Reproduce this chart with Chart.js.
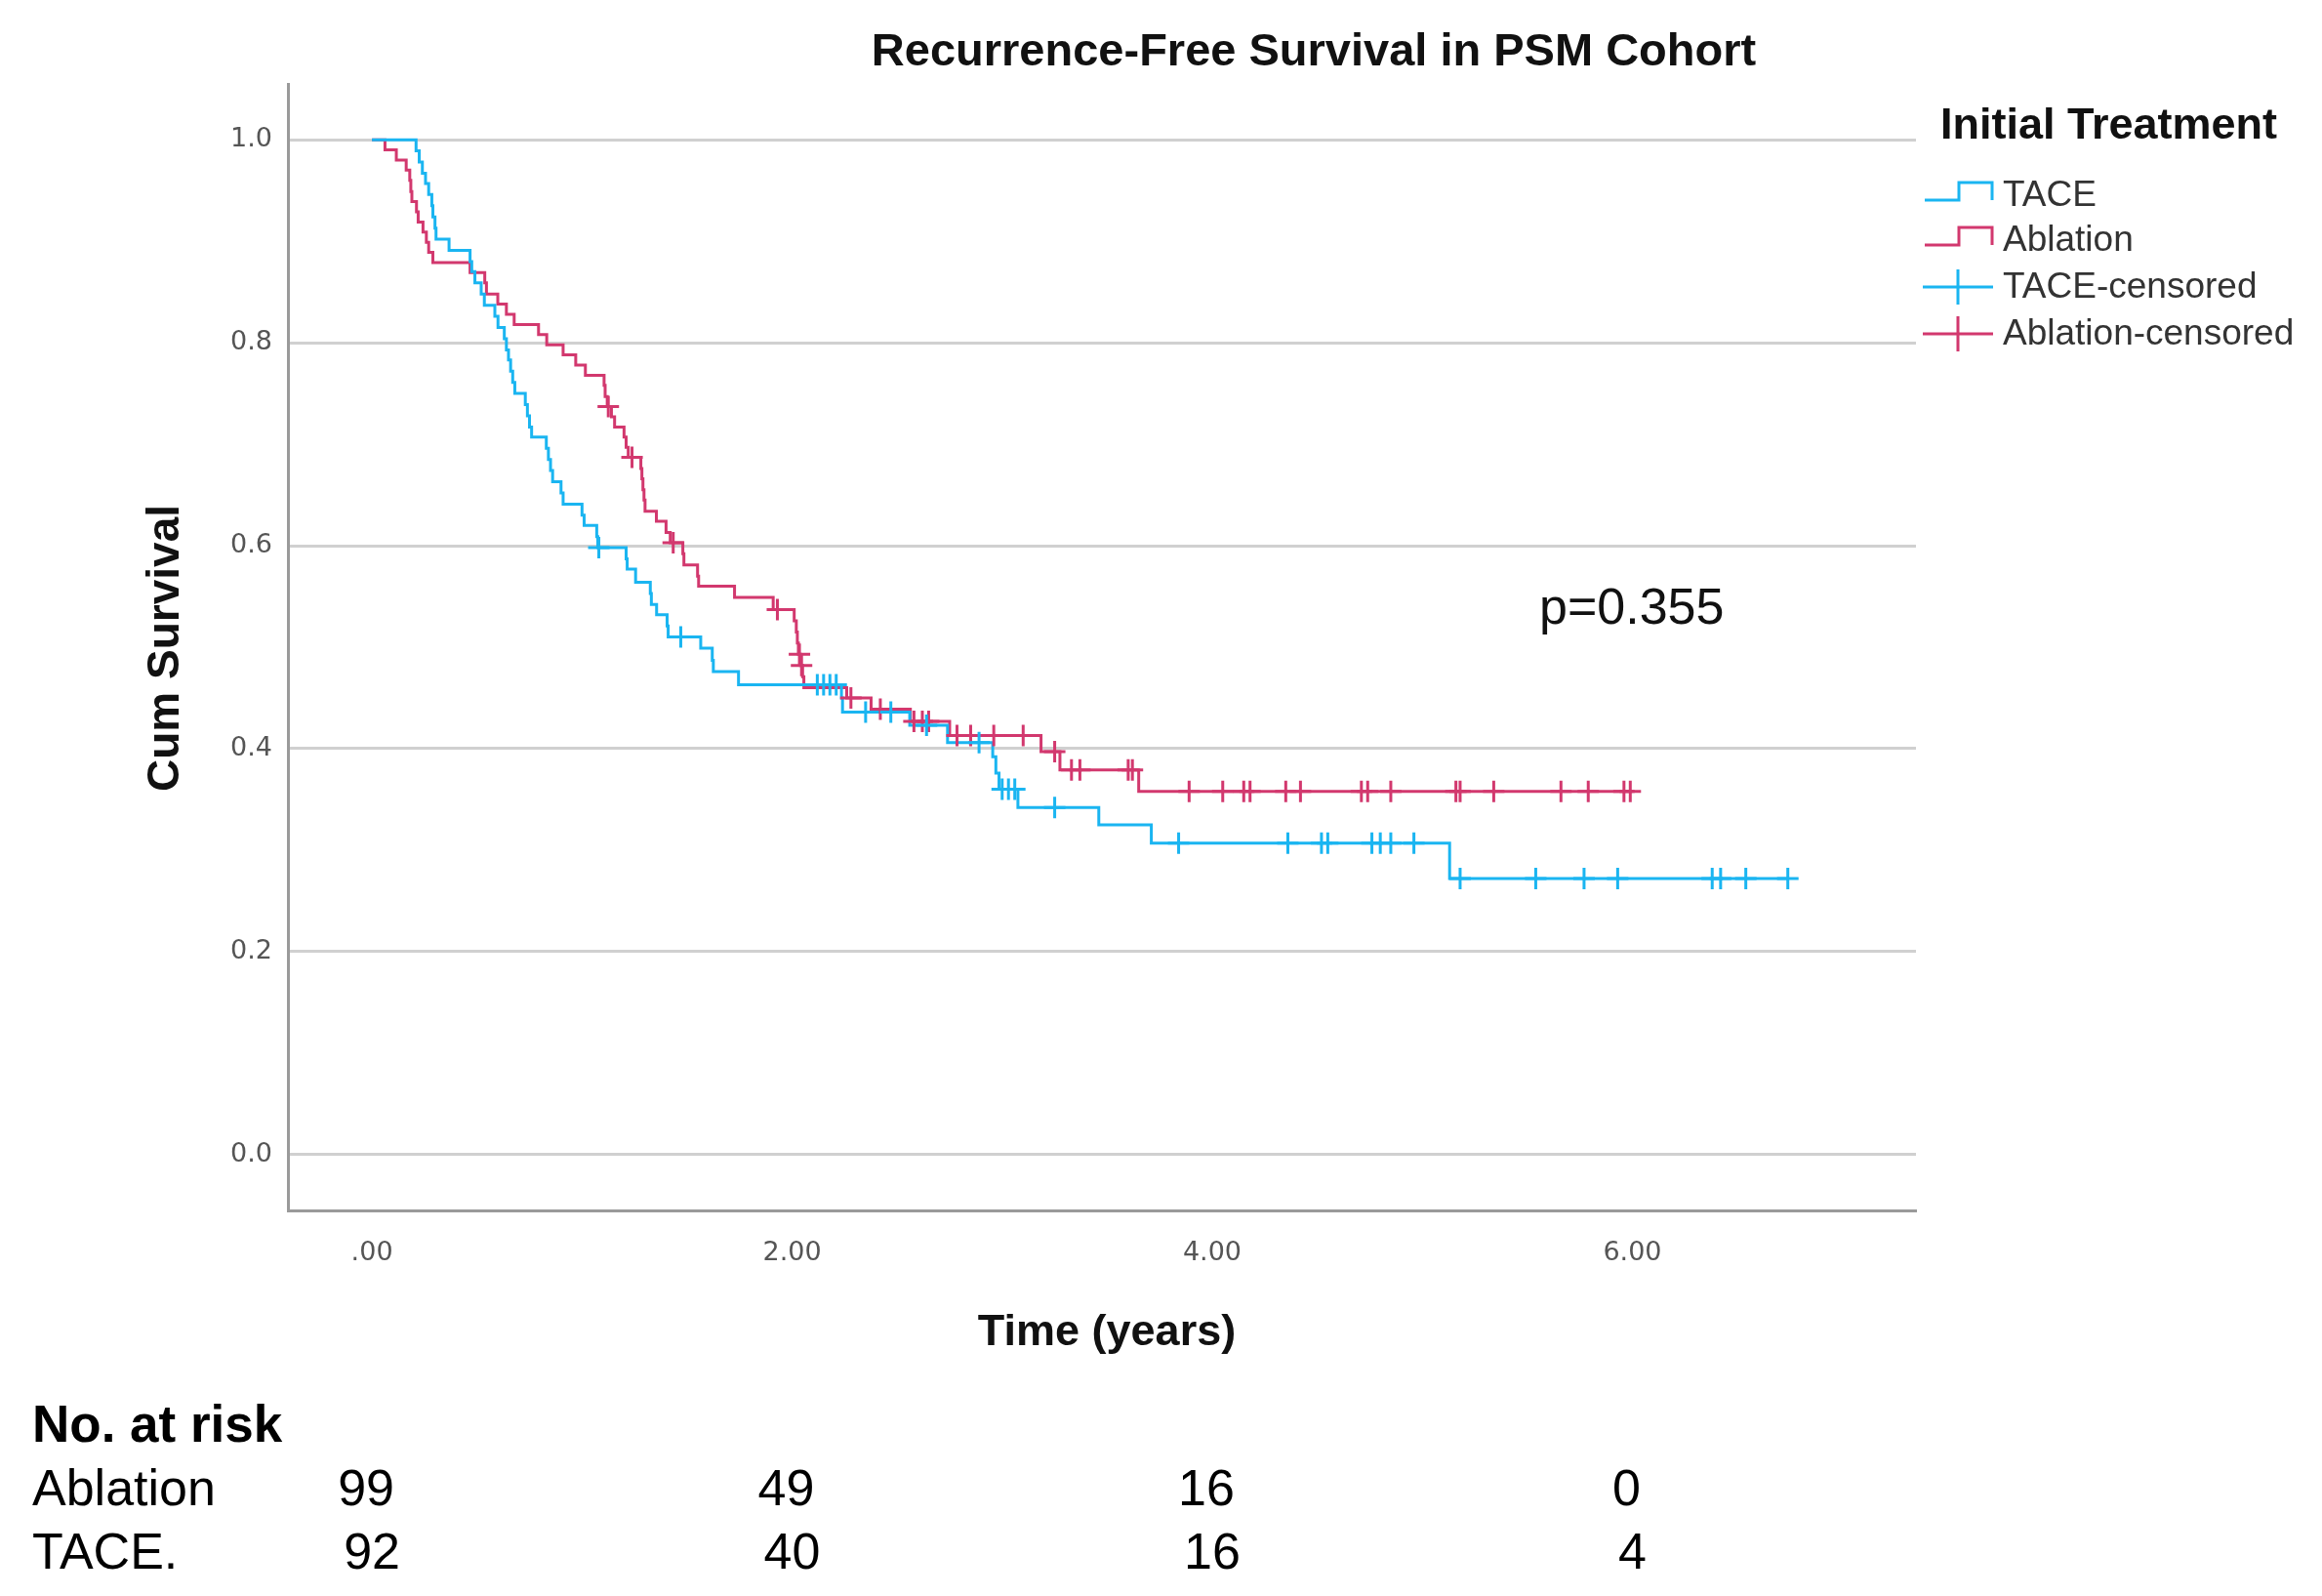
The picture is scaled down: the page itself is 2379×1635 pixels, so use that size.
<!DOCTYPE html>
<html>
<head>
<meta charset="utf-8">
<title>Recurrence-Free Survival in PSM Cohort</title>
<script src="https://cdn.jsdelivr.net/npm/chart.js@4.4.1/dist/chart.umd.min.js"></script>
<style>
  html, body { margin: 0; padding: 0; background: #fff; }
  canvas { display: block; }
</style>
</head>
<body>
<canvas id="kmChart" width="2379" height="1635"></canvas>
<script>
// event times (years) and survival after each drop
const taceTime = [0.21, 0.225, 0.24, 0.255, 0.27, 0.285, 0.29, 0.30, 0.305, 0.367, 0.467, 0.475, 0.49, 0.52, 0.535,
  0.585, 0.60, 0.63, 0.64, 0.65, 0.66, 0.67, 0.68, 0.73, 0.74, 0.75, 0.76, 0.83, 0.84, 0.85, 0.86, 0.90, 0.91,
  1.00, 1.01, 1.07, 1.075, 1.21, 1.215, 1.255, 1.325, 1.33, 1.355, 1.405, 1.41, 1.565, 1.62, 1.625, 1.745,
  2.235, 2.24, 2.56, 2.74, 2.955, 2.97, 2.985, 3.075, 3.46, 3.71, 5.13];
const taceSurv = [0.989, 0.978, 0.967, 0.957, 0.946, 0.935, 0.924, 0.913, 0.902, 0.891, 0.880, 0.870, 0.859, 0.848, 0.837,
  0.826, 0.815, 0.804, 0.793, 0.783, 0.772, 0.761, 0.750, 0.739, 0.728, 0.717, 0.707, 0.696, 0.685, 0.674, 0.663, 0.652, 0.641,
  0.630, 0.620, 0.609, 0.598, 0.587, 0.577, 0.564, 0.553, 0.542, 0.532, 0.521, 0.510, 0.499, 0.487, 0.476, 0.463,
  0.450, 0.436, 0.423, 0.406, 0.392, 0.376, 0.360, 0.342, 0.325, 0.307, 0.272];
const taceEnd = 6.74;
const taceCensored = [1.08, 1.47, 2.12, 2.15, 2.18, 2.21, 2.35, 2.47, 2.64, 2.89, 3.0, 3.03, 3.06, 3.25, 3.84,
  4.36, 4.52, 4.55, 4.76, 4.80, 4.85, 4.96, 5.18, 5.54, 5.77, 5.93, 6.38, 6.42, 6.54, 6.74];

const ablTime = [0.062, 0.116, 0.163, 0.18, 0.185, 0.19, 0.212, 0.22, 0.243, 0.259, 0.27, 0.29, 0.467, 0.537, 0.545,
  0.599, 0.64, 0.677, 0.793, 0.832, 0.91, 0.97, 1.016, 1.105, 1.11, 1.12, 1.14, 1.155, 1.20, 1.21, 1.22,
  1.28, 1.285, 1.29, 1.295, 1.30, 1.354, 1.40, 1.42, 1.48, 1.485, 1.55, 1.555, 1.726, 1.91,
  2.01, 2.02, 2.025, 2.03, 2.04, 2.05, 2.056, 2.26, 2.376, 2.563, 2.75, 3.185, 3.275, 3.65];
const ablSurv = [0.990, 0.980, 0.970, 0.960, 0.949, 0.939, 0.929, 0.919, 0.909, 0.899, 0.889, 0.879, 0.869, 0.859, 0.848,
  0.838, 0.828, 0.818, 0.808, 0.798, 0.788, 0.778, 0.768, 0.758, 0.747, 0.737, 0.727, 0.717, 0.707, 0.697, 0.687,
  0.676, 0.666, 0.655, 0.645, 0.634, 0.624, 0.613, 0.603, 0.592, 0.581, 0.570, 0.560, 0.549, 0.537,
  0.526, 0.515, 0.504, 0.493, 0.482, 0.471, 0.460, 0.450, 0.439, 0.427, 0.413, 0.397, 0.379, 0.358];
const ablEnd = 6.0;
const ablCensored = [1.125, 1.238, 1.434, 1.93, 2.035, 2.045, 2.28, 2.42, 2.58, 2.62, 2.65, 2.785, 2.85, 2.96, 3.10,
  3.25, 3.33, 3.37, 3.60, 3.62, 3.89, 4.05, 4.15, 4.18, 4.35, 4.42, 4.71, 4.74, 4.85, 5.16, 5.18, 5.34,
  5.66, 5.79, 5.96, 5.99];

// number at risk table
const riskTimes = [0, 2, 4, 6];
const riskAblation = [99, 49, 16, 0];
const riskTace = [92, 40, 16, 4];

const blue = '#1ab5f1';
const red = '#d2386e';

// step curve points: start at 1.0, one point per drop, flat to the last follow-up
function curve(times, surv, end) {
  const pts = [{x: 0, y: 1}];
  times.forEach((t, i) => pts.push({x: t, y: surv[i]}));
  pts.push({x: end, y: surv[surv.length - 1]});
  return pts;
}

// censor marks sit on the curve at their time
function marks(times, surv, cens) {
  return cens.map(c => {
    let s = 1;
    for (let i = 0; i < times.length; i++) if (times[i] <= c) s = surv[i];
    return {x: c, y: s};
  });
}

// titles, p-value, legend and at-risk table
const extras = {
  id: 'extras',
  afterDraw(chart) {
    const c = chart.ctx;
    const xs = chart.scales.x;
    c.save();
    c.fillStyle = '#111';
    c.textBaseline = 'middle';

    c.textAlign = 'center';
    c.font = 'bold 47px "Liberation Sans", Arial, sans-serif';
    c.fillText('Recurrence-Free Survival in PSM Cohort', 1346, 54);

    c.font = 'bold 45px "Liberation Sans", Arial, sans-serif';
    c.fillText('Time (years)', 1134, 1366);
    c.save();
    c.translate(170, 664);
    c.rotate(-Math.PI / 2);
    c.font = 'bold 46px "Liberation Sans", Arial, sans-serif';
    c.fillText('Cum Survival', 0, 0);
    c.restore();

    c.textAlign = 'left';
    c.font = '52px "Liberation Sans", Arial, sans-serif';
    c.fillText('p=0.355', 1577, 625);

    // legend
    c.font = 'bold 45px "Liberation Sans", Arial, sans-serif';
    c.fillText('Initial Treatment', 1988, 130);
    const items = [
      {label: 'TACE', color: blue, kind: 'step', y: 200},
      {label: 'Ablation', color: red, kind: 'step', y: 246},
      {label: 'TACE-censored', color: blue, kind: 'cross', y: 294},
      {label: 'Ablation-censored', color: red, kind: 'cross', y: 342}
    ];
    items.forEach(it => {
      c.strokeStyle = it.color;
      c.lineWidth = 3;
      c.beginPath();
      if (it.kind === 'step') {
        c.moveTo(1972, it.y + 5);
        c.lineTo(2007, it.y + 5);
        c.lineTo(2007, it.y - 13);
        c.lineTo(2041, it.y - 13);
        c.lineTo(2041, it.y + 5);
      } else {
        c.moveTo(1970, it.y);
        c.lineTo(2042, it.y);
        c.moveTo(2006, it.y - 18);
        c.lineTo(2006, it.y + 18);
      }
      c.stroke();
      c.fillStyle = '#333';
      c.font = '37px "Liberation Sans", Arial, sans-serif';
      c.fillText(it.label, 2052, it.y + 1);
    });

    // number at risk
    c.fillStyle = '#000';
    c.font = 'bold 53px "Liberation Sans", Arial, sans-serif';
    c.fillText('No. at risk', 33, 1462);
    c.font = '52px "Liberation Sans", Arial, sans-serif';
    c.fillText('Ablation', 33, 1528);
    c.fillText('TACE.', 33, 1593);
    c.textAlign = 'center';
    riskTimes.forEach((t, i) => {
      const px = xs.getPixelForValue(t);
      c.fillText(String(riskAblation[i]), px - 6, 1528);
      c.fillText(String(riskTace[i]), px, 1593);
    });
    c.restore();
  }
};

const ctx = document.getElementById('kmChart').getContext('2d');

new Chart(ctx, {
  type: 'line',
  data: {
    datasets: [
      {
        label: 'TACE-censored',
        data: marks(taceTime, taceSurv, taceCensored),
        showLine: false,
        pointStyle: 'cross',
        pointRadius: 11,
        pointBorderWidth: 3,
        pointBorderColor: blue,
        borderColor: blue
      },
      {
        label: 'Ablation-censored',
        data: marks(ablTime, ablSurv, ablCensored),
        showLine: false,
        pointStyle: 'cross',
        pointRadius: 11,
        pointBorderWidth: 3,
        pointBorderColor: red,
        borderColor: red
      },
      {
        label: 'TACE',
        data: curve(taceTime, taceSurv, taceEnd),
        stepped: 'before',
        borderColor: blue,
        borderWidth: 3,
        pointRadius: 0,
        fill: false
      },
      {
        label: 'Ablation',
        data: curve(ablTime, ablSurv, ablEnd),
        stepped: 'before',
        borderColor: red,
        borderWidth: 3,
        pointRadius: 0,
        fill: false
      }
    ]
  },
  options: {
    responsive: false,
    animation: false,
    devicePixelRatio: 1,
    layout: {
      padding: {left: 0, top: 86, right: 416, bottom: 335}
    },
    plugins: {
      legend: {display: false},
      tooltip: {enabled: false},
      title: {display: false}
    },
    scales: {
      x: {
        type: 'linear',
        min: -0.4,
        max: 7.35,
        afterFit: scale => { scale.height = 60; },
        grid: {display: false, drawTicks: false},
        border: {display: true, color: '#9a9a9a', width: 3},
        ticks: {
          stepSize: 2,
          includeBounds: false,
          padding: 28,
          color: '#555',
          font: {family: '"DejaVu Sans", Verdana, sans-serif', size: 27},
          callback: v => (v === 0 ? '.00' : v.toFixed(2))
        }
      },
      y: {
        min: -0.055,
        max: 1.055,
        afterFit: scale => { scale.width = 295; },
        grid: {color: '#d0d0d0', lineWidth: 3, drawTicks: false},
        border: {display: true, color: '#9a9a9a', width: 3},
        ticks: {
          stepSize: 0.2,
          includeBounds: false,
          padding: 16,
          color: '#555',
          font: {family: '"DejaVu Sans", Verdana, sans-serif', size: 27},
          callback: v => v.toFixed(1)
        }
      }
    }
  },
  plugins: [extras]
});
</script>
</body>
</html>
